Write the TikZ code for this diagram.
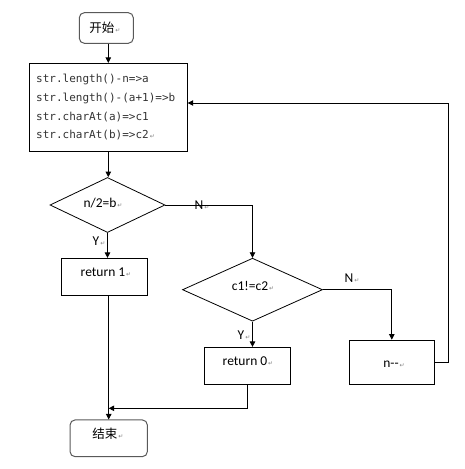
\documentclass[tikz,border=0pt]{standalone}
\usepackage{fontspec}
\setmainfont{Carlito}
\newfontfamily\cjk{Noto Sans CJK SC}
\newfontfamily\codefont{DejaVu Sans Mono}
\newfontfamily\symfont{DejaVu Sans}
\usetikzlibrary{shapes.geometric,arrows.meta}
\newcommand{\pmark}{{\symfont\fontsize{6}{6}\selectfont\color{gray}\,↵}}
\begin{document}
\begin{tikzpicture}[x=1pt,y=-1pt,
  every node/.style={font=\fontsize{13.5}{15}\selectfont, inner sep=0pt},
  blk/.style={draw=black, line width=0.8pt, rectangle},
  term/.style={draw=black!65, line width=1pt, rectangle, rounded corners=5pt},
  dec/.style={draw=black, line width=0.8pt, diamond},
  txt/.style={inner sep=0pt},
  code/.style={font=\codefont\fontsize{11}{13}\selectfont, text=black!80, anchor=west},
  arr/.style={draw=black, line width=0.8pt, -{Triangle[length=5.5pt,width=5.5pt]}},
  ln/.style={draw=black, line width=0.8pt}]
\useasboundingbox (0,0) rectangle (464,469);
% nodes
\node[term, minimum width=54pt, minimum height=30.6pt] (start) at (106.3,28) {};
\node[txt] (starttxt) at (105,28) {\cjk\fontsize{12.5}{14}\selectfont 开始\pmark};
\node[blk, minimum width=158pt, minimum height=88.4pt] (proc) at (108.3,107.5) {};
\node[code] (l1) at (36,79) {str.length()-n=>a};
\node[code] (l2) at (36,98) {str.length()-(a+1)=>b};
\node[code] (l3) at (36,117) {str.charAt(a)=>c1};
\node[code] (l4) at (36,135) {str.charAt(b)=>c2\pmark};
\node[dec, minimum width=115pt, minimum height=55pt] (d1) at (107.5,205) {};
\node[txt] (d1t) at (103,203) {n/2=b\pmark};
\node[blk, minimum width=86pt, minimum height=37.4pt] (r1) at (104.8,277) {};
\node[txt] (r1t) at (106,272) {return 1\pmark};
\node[dec, minimum width=140pt, minimum height=63pt] (d2) at (252.5,289.7) {};
\node[txt] (d2t) at (253,286) {c1!=c2\pmark};
\node[blk, minimum width=85.7pt, minimum height=37pt] (r0) at (247.2,365.8) {};
\node[txt] (r0t) at (248,361) {return 0\pmark};
\node[blk, minimum width=85pt, minimum height=44.3pt] (nn) at (391.8,362.2) {};
\node[txt] (nnt) at (394,364) {n-{}-\pmark};
\node[term, minimum width=77.3pt, minimum height=36.7pt] (end) at (108.7,438.3) {};
\node[txt] (endt) at (108,434) {\cjk\fontsize{12.5}{14}\selectfont 结束\pmark};
% labels
\node[txt] (yl1) at (99,241) {Y\pmark};
\node[txt] (nl1) at (202,205) {N\pmark};
\node[txt] (yl2) at (244,335) {Y\pmark};
\node[txt] (nl2) at (352,278) {N\pmark};
% coordinates
\coordinate (fb) at (448,103);
\coordinate (j) at (249.3,408.3);
% connectors
\draw[arr] (start.south -| proc) -- (proc.north);
\draw[arr] (proc.south) -- (proc.south |- d1.north);
\draw[arr] (d1.south) -- (d1.south |- r1.north);
\draw[arr] (d1.east) -| (d2.north);
\draw[arr] (d2.east) -| (nn.north);
\draw[arr] (d2.south) -- (d2.south |- r0.north);
\draw[arr] (nn.east) -| (fb) -- (fb -| proc.east);
\draw[arr] (r1.south -| end) -- (end.north);
\draw[arr] (r0.south) -- (r0.south |- j) -- (j -| end.north);
\end{tikzpicture}
\end{document}
